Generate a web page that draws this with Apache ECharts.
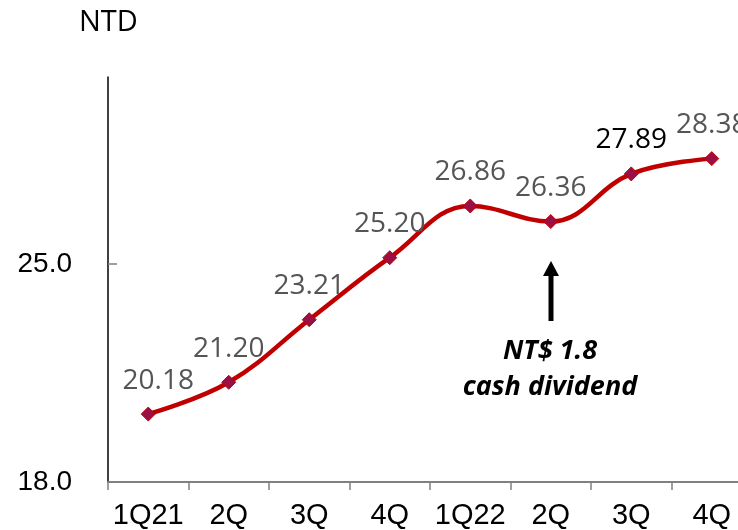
<!DOCTYPE html>
<html><head><meta charset="utf-8">
<script src="https://cdn.jsdelivr.net/npm/echarts@6/dist/echarts.min.js"></script>
<style>html,body{margin:0;padding:0;background:#fff}#c{width:738px;height:530px}</style>
</head><body><div id="c"></div>
<script>
var categories = ['1Q21','2Q','3Q','4Q','1Q22','2Q','3Q','4Q'];
var values = [20.18, 21.20, 23.21, 25.20, 26.86, 26.36, 27.89, 28.38];
var yTicks = [18, 25];
var unitLabel = 'NTD';
var noteLines = ['NT$ 1.8', 'cash dividend'];

var chart = echarts.init(document.getElementById('c'));
var axisFont = '"Liberation Sans", Arial, sans-serif';
var labFont = '"Open Sans", sans-serif';
var seriesData = values.map(function(v, i){
  var d = {value: v};
  if (i === 0) d.label = {offset: [10, 0]};
  if (i === 6) d.label = {color: '#000'};
  return d;
});
chart.setOption({
  animation: false,
  grid: {left: 108, width: 644, top: 77, bottom: 48, containLabel: false, outerBoundsMode: 'none'},
  xAxis: {
    type: 'category', data: categories, boundaryGap: true,
    axisLine: {lineStyle: {color: '#808080', width: 2}},
    axisTick: {show: true, length: 8, lineStyle: {color: '#808080', width: 1.5}},
    axisLabel: {color: '#000', fontSize: 29, fontFamily: axisFont, margin: 19, interval: 0, hideOverlap: false}
  },
  yAxis: {
    type: 'value', min: 18, max: 31,
    splitLine: {show: false},
    axisLine: {show: true, lineStyle: {color: '#000', width: 1.5}},
    axisTick: {show: true, length: 9, inside: true, customValues: yTicks, lineStyle: {color: '#808080', width: 1.5}},
    axisLabel: {color: '#000', fontSize: 28, fontFamily: axisFont, margin: 36,
      customValues: yTicks, formatter: function(v){return v.toFixed(1);}}
  },
  series: [{
    type: 'line', data: seriesData, smooth: 0.4,
    lineStyle: {color: '#C00000', width: 4.5},
    symbol: 'diamond', symbolSize: 14,
    itemStyle: {color: '#9B0F45', borderColor: '#C00000', borderWidth: 1},
    label: {show: true, position: 'top', distance: 12, color: '#555555',
      fontSize: 28, fontFamily: labFont,
      formatter: function(p){return p.value.toFixed(2);}}
  }],
  graphic: [
    {type: 'text', left: 79, top: 8, style: {text: unitLabel, fill: '#000', fontSize: 29, fontFamily: labFont}},
    {type: 'line', shape: {x1: 551, y1: 272, x2: 551, y2: 321}, style: {stroke: '#000', lineWidth: 5}},
    {type: 'polygon', shape: {points: [[551, 261], [543, 276], [559, 276]]}, style: {fill: '#000'}},
    {type: 'text', x: 550, y: 351, style: {text: noteLines[0], fill: '#000', fontSize: 27, fontWeight: 'bold', fontStyle: 'italic', fontFamily: labFont, align: 'center', verticalAlign: 'middle'}},
    {type: 'text', x: 550, y: 387, style: {text: noteLines[1], fill: '#000', fontSize: 27, fontWeight: 'bold', fontStyle: 'italic', fontFamily: labFont, align: 'center', verticalAlign: 'middle'}}
  ]
});
</script></body></html>
